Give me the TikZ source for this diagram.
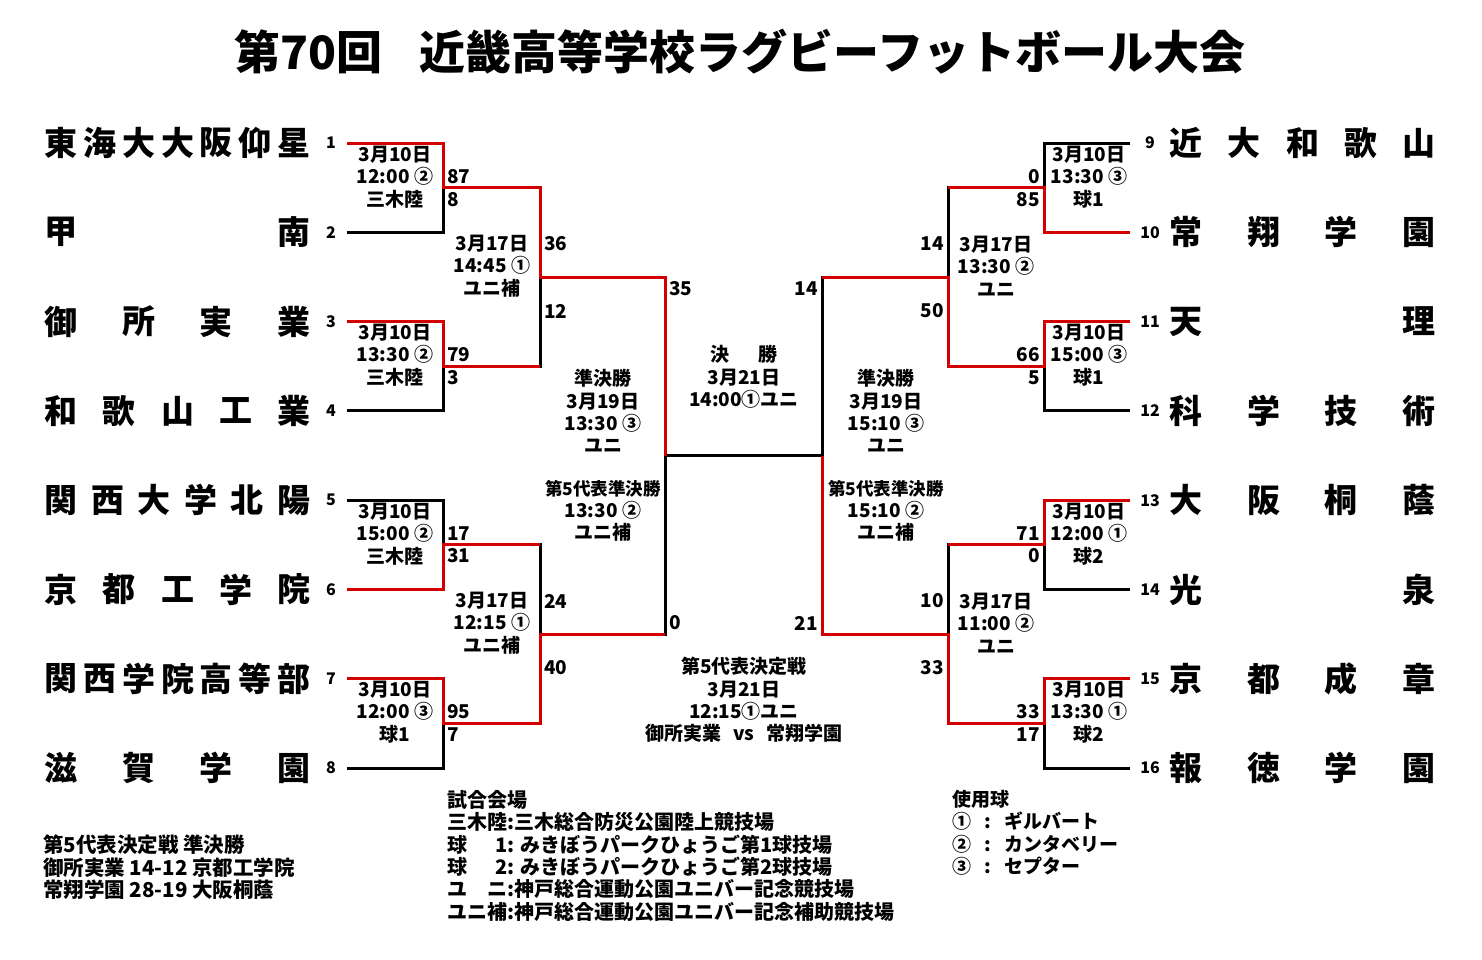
\documentclass[tikz,border=0pt]{standalone}
\usepackage{fontspec}
\setmainfont{Noto Sans CJK JP}
\usepackage{xcolor}
\usepackage{tikz}

\definecolor{winred}{RGB}{210,0,0}

\tikzset{
  lose/.style={line width=3pt},
  win/.style={line width=3pt,draw=winred},
  team/.style={inner sep=0pt,font=\fontsize{33}{33}\selectfont\bfseries},
  seed/.style={inner sep=0pt,font=\fontsize{16}{16}\selectfont\bfseries},
  info/.style={inner sep=0pt,align=center,font=\fontsize{19}{22.3}\selectfont\bfseries},
  scoreL/.style={inner sep=1pt,anchor=west,font=\fontsize{19}{19}\selectfont\bfseries},
  scoreR/.style={inner sep=1pt,anchor=east,font=\fontsize{19}{19}\selectfont\bfseries},
  legend/.style={inner sep=0pt,anchor=north west,align=left,font=\fontsize{19}{22.4}\selectfont\bfseries}
}

% team name spread over a fixed width
\newcommand{\teamname}[5]{%
  \foreach \ch [count=\k from 0] in {#5}
    \node[team] (t#1-\k) at ({#2+\k*233/(#4-1)},#3) {\ch};
}
\newcommand{\smallrep}{\fontsize{17.5}{22.3}\selectfont}

\begin{document}
\begin{tikzpicture}[x=1pt,y=-1pt]
\useasboundingbox (0,0) rectangle (1482,959);

% Title
\node[inner sep=0pt,font=\fontsize{46}{46}\selectfont\bfseries] (title) at (740,52)
  {第70回\hspace{0.8em}近畿高等学校ラグビーフットボール大会};

% Seeds and line ends
\foreach \s/\y in {1/143,2/232.3,3/321.6,4/410.9,5/500.2,6/589.5,7/678.8,8/768.1} {
  \node[seed] (n\s) at (331,\y) {\s};
  \coordinate (p\s) at (347,\y);
}
\foreach \s/\y in {9/143,10/232.3,11/321.6,12/410.9,13/500.2,14/589.5,15/678.8,16/768.1} {
  \node[seed] (n\s) at (1150,\y) {\s};
  \coordinate (p\s) at (1130,\y);
}

% Teams
\teamname{1}{61}{143}{7}{東,海,大,大,阪,仰,星}
\teamname{2}{61}{232.3}{2}{甲,南}
\teamname{3}{61}{321.6}{4}{御,所,実,業}
\teamname{4}{61}{410.9}{5}{和,歌,山,工,業}
\teamname{5}{61}{500.2}{6}{関,西,大,学,北,陽}
\teamname{6}{61}{589.5}{5}{京,都,工,学,院}
\teamname{7}{61}{678.8}{7}{関,西,学,院,高,等,部}
\teamname{8}{61}{768.1}{4}{滋,賀,学,園}
\teamname{9}{1186}{143}{5}{近,大,和,歌,山}
\teamname{10}{1186}{232.3}{4}{常,翔,学,園}
\teamname{11}{1186}{321.6}{2}{天,理}
\teamname{12}{1186}{410.9}{4}{科,学,技,術}
\teamname{13}{1186}{500.2}{4}{大,阪,桐,蔭}
\teamname{14}{1186}{589.5}{2}{光,泉}
\teamname{15}{1186}{678.8}{4}{京,都,成,章}
\teamname{16}{1186}{768.1}{4}{報,徳,学,園}

% Junctions
\coordinate (m1) at (443,187.6);  \coordinate (m2) at (443,366.3);
\coordinate (m3) at (443,544.8);  \coordinate (m4) at (443,723.4);
\coordinate (m5) at (1044,187.6); \coordinate (m6) at (1044,366.3);
\coordinate (m7) at (1044,544.8); \coordinate (m8) at (1044,723.4);
\coordinate (q1) at (540,277);    \coordinate (q2) at (540,634);
\coordinate (q3) at (948,277);    \coordinate (q4) at (948,634);
\coordinate (f1) at (665,455.5);  \coordinate (f2) at (822,455.5);

% Bracket
\draw[lose] (p1) -| (m1) |- (p2);
\draw[lose] (p3) -| (m2) |- (p4);
\draw[lose] (p5) -| (m3) |- (p6);
\draw[lose] (p7) -| (m4) |- (p8);
\draw[lose] (p9) -| (m5) |- (p10);
\draw[lose] (p11) -| (m6) |- (p12);
\draw[lose] (p13) -| (m7) |- (p14);
\draw[lose] (p15) -| (m8) |- (p16);
\draw[lose] (m1) -| (q1) |- (m2);
\draw[lose] (m3) -| (q2) |- (m4);
\draw[lose] (m5) -| (q3) |- (m6);
\draw[lose] (m7) -| (q4) |- (m8);
\draw[lose] (q1) -| (f1) |- (q2);
\draw[lose] (q3) -| (f2) |- (q4);
\draw[lose] (f1) -- (f2);

% Winners
\draw[win] (p1) -| (m1) -| (q1) -| (f1);
\draw[win] (p3) -| (m2) -- (m2 -| q1);
\draw[win] (p6) -| (m3) -- (m3 -| q2);
\draw[win] (p7) -| (m4) -| (q2) -- (q2 -| f1);
\draw[win] (p10) -| (m5) -- (m5 -| q3);
\draw[win] (p11) -| (m6) -| (q3) -- (q3 -| f2);
\draw[win] (p13) -| (m7) -- (m7 -| q4);
\draw[win] (p15) -| (m8) -| (q4) -| (f2);

% Scores
\foreach \x/\y/\sc [count=\i] in {446/177/87, 446/200/8, 446/355/79, 446/378/3,
  446/534/17, 446/556/31, 446/712/95, 446/735/7,
  543/244/36, 543/311/12, 543/601/24, 543/668/40, 668/289/35, 668/623/0}
  \node[scoreL] (sl\i) at (\x,\y) {\sc};
\foreach \x/\y/\sc [count=\i] in {1041/177/0, 1041/200/85, 1041/355/66, 1041/378/5,
  1041/534/71, 1041/556/0, 1041/712/33, 1041/735/17,
  945/244/14, 945/311/50, 945/601/10, 945/668/33, 819/289/14, 819/623/21}
  \node[scoreR] (sr\i) at (\x,\y) {\sc};

% Match info
\node[info] (g1) at (395,177) {3月10日\\12:00 ②\\三木陸};
\node[info] (g2) at (395,355) {3月10日\\13:30 ②\\三木陸};
\node[info] (g3) at (395,534) {3月10日\\15:00 ②\\三木陸};
\node[info] (g4) at (395,712) {3月10日\\12:00 ③\\球1};
\node[info] (g5) at (1089,177) {3月10日\\13:30 ③\\球1};
\node[info] (g6) at (1089,355) {3月10日\\15:00 ③\\球1};
\node[info] (g7) at (1089,534) {3月10日\\12:00 ①\\球2};
\node[info] (g8) at (1089,712) {3月10日\\13:30 ①\\球2};
\node[info] (h1) at (492,266) {3月17日\\14:45 ①\\ユニ補};
\node[info] (h2) at (492,623) {3月17日\\12:15 ①\\ユニ補};
\node[info] (h3) at (996,266) {3月17日\\13:30 ②\\ユニ};
\node[info] (h4) at (996,623) {3月17日\\11:00 ②\\ユニ};
\node[info] (k1) at (603,411) {準決勝\\3月19日\\13:30 ③\\ユニ};
\node[info] (k2) at (886,411) {準決勝\\3月19日\\15:10 ③\\ユニ};
\node[info] (k3) at (603,511) {{\smallrep 第5代表準決勝}\\13:30 ②\\ユニ補};
\node[info] (k4) at (886,511) {{\smallrep 第5代表準決勝}\\15:10 ②\\ユニ補};
\node[info] (fin) at (744,377) {決\hspace{1.5em}勝\\3月21日\\14:00①ユニ};
\node[info] (rep) at (744,700) {第5代表決定戦\\3月21日\\12:15①ユニ\\御所実業\hspace{0.6em}vs\hspace{0.6em}常翔学園};

% Legends
\node[legend,font=\fontsize{20.5}{22.4}\selectfont\bfseries] (res) at (43,835)
  {第5代表決定戦 準決勝\\御所実業 14-12 京都工学院\\常翔学園 28-19 大阪桐蔭};
\node[legend,font=\fontsize{20}{22.4}\selectfont\bfseries] (venue) at (447,790) {試合会場\\
  三木陸:三木総合防災公園陸上競技場\\
  \makebox[3em][s]{球\hfill 1}: みきぼうパークひょうご第1球技場\\
  \makebox[3em][s]{球\hfill 2}: みきぼうパークひょうご第2球技場\\
  \makebox[3em][s]{ユ\hfill ニ}:神戸総合運動公園ユニバー記念競技場\\
  ユニ補:神戸総合運動公園ユニバー記念補助競技場};
\node[legend] (ball) at (952,790) {使用球\\
  ①\hspace{0.7em}:\hspace{0.7em}ギルバート\\
  ②\hspace{0.7em}:\hspace{0.7em}カンタベリー\\
  ③\hspace{0.7em}:\hspace{0.7em}セプター};
\end{tikzpicture}
\end{document}
